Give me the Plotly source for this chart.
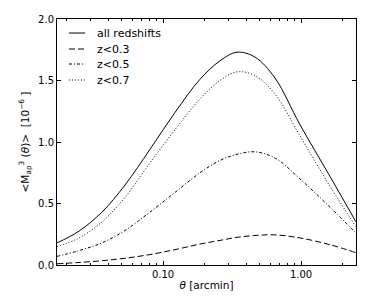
import plotly.graph_objects as go
import numpy as np

# data (theta in arcmin, <Map^3> in 1e-6)
theta = [0.01706, 0.02422, 0.03614, 0.05303, 0.08045, 0.1222, 0.1854, 0.2588,
         0.3439, 0.4642, 0.648, 0.9834, 1.622, 2.503]
all_z = [0.18, 0.27, 0.43, 0.65, 0.94, 1.24, 1.51, 1.66, 1.73, 1.69, 1.52, 1.14, 0.72, 0.35]
z07 = [0.15, 0.215, 0.35, 0.55, 0.83, 1.10, 1.35, 1.50, 1.57, 1.54, 1.39, 1.05, 0.64, 0.31]
z05 = [0.07, 0.115, 0.18, 0.28, 0.43, 0.59, 0.75, 0.85, 0.90, 0.92, 0.87, 0.70, 0.47, 0.26]
z03 = [0.01, 0.02, 0.035, 0.055, 0.085, 0.125, 0.17, 0.20, 0.225, 0.24, 0.245, 0.22, 0.165, 0.10]

names = ["all redshifts", "z<0.3", "z<0.5", "z<0.7"]
series = [all_z, z03, z05, z07]
dashes = ["solid", "6px,3px", "3px,2px,1px,2px", "1px,2px"]

x_ticks = [0.1, 1.0]
x_ticklabels = ["0.10", "1.00"]
y_ticks = [0.0, 0.5, 1.0, 1.5, 2.0]
minor_vals = [m * 10.0 ** e for e in (-2, -1, 0) for m in range(2, 10)]

fig = go.Figure()
for name, ys, d in zip(names, series, dashes):
    fig.add_trace(go.Scatter(x=theta, y=ys, mode="lines", name=name, showlegend=False,
                             line=dict(color="black", width=1, dash=d, shape="spline", smoothing=1.0)))

# legend drawn inside the axes (top-left)
leg_y = [0.943, 0.878, 0.817, 0.752]
for name, d, yy in zip(names, dashes, leg_y):
    fig.add_shape(type="line", xref="paper", yref="paper", x0=0.040, x1=0.094, y0=yy, y1=yy,
                  line=dict(color="black", width=1, dash=d))
    fig.add_annotation(text=name, xref="paper", yref="paper", x=0.128, y=yy,
                       xanchor="left", yanchor="middle", showarrow=False,
                       font=dict(family="DejaVu Sans", size=11, color="black"))

font = dict(family="DejaVu Sans", size=10, color="black")
tfont = dict(family="DejaVu Sans", size=10.5, color="black")
fig.update_layout(
    width=382, height=301,
    margin=dict(l=57, r=26, t=19, b=36),
    paper_bgcolor="white", plot_bgcolor="white",
    font=font,
    showlegend=False,
    xaxis=dict(type="log", range=[np.log10(0.01706), np.log10(2.503)], automargin=False,
               tickvals=x_ticks, ticktext=x_ticklabels, tickfont=font,
               ticks="inside", ticklen=4, tickcolor="black", tickwidth=0.6,
               showline=True, linecolor="black", linewidth=1, mirror="ticks",
               showgrid=False, zeroline=False,
               minor=dict(tickvals=minor_vals, ticks="inside", ticklen=2, tickcolor="black",
                          tickwidth=0.6, showgrid=False),
               title=dict(text="<i>θ</i> [arcmin]", standoff=2, font=tfont)),
    yaxis=dict(range=[0, 2.0], tickvals=y_ticks, tickformat=".1f", automargin=False, tickfont=font,
               ticks="inside", ticklen=4, tickcolor="black", tickwidth=0.6,
               showline=True, linecolor="black", linewidth=1, mirror="ticks",
               showgrid=False, zeroline=False,
               title=dict(text="&lt;M<sub>ap</sub><sup>3</sup> (<i>θ</i>)&gt;  [10<sup>−6</sup> ]",
                          standoff=6, font=tfont)),
)
fig.write_html("out.html", config={"displayModeBar": False},
               post_script="document.body.style.margin='0px';")
